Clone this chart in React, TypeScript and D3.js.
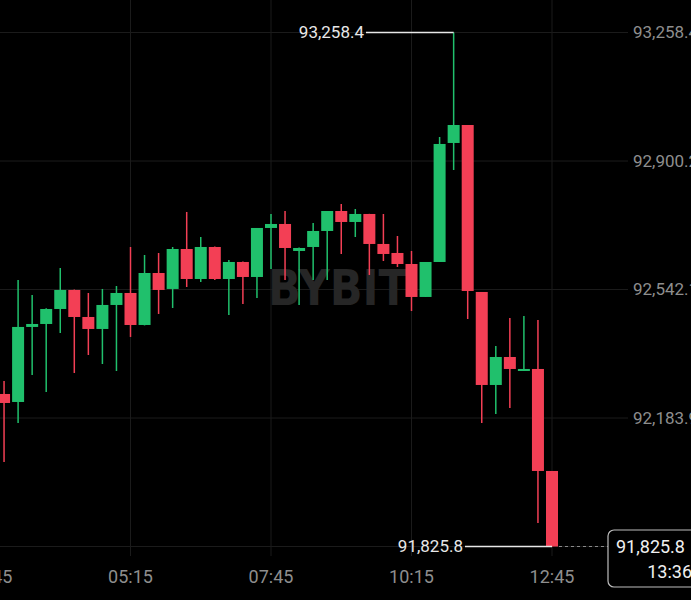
import React from "react";
import * as d3 from "d3";

// 15-minute candles, starting 03:00
const startMinute = 180;
const opens = [92250.9, 92228.6, 92437.7, 92446.0, 92487.8, 92540.8, 92465.5, 92432.1, 92499.0, 92532.4,
  92443.2, 92588.1, 92543.6, 92655.0, 92571.4, 92660.6, 92571.4, 92618.8, 92577.0, 92713.6,
  92724.7, 92649.5, 92660.6, 92705.2, 92760.9, 92730.3, 92752.6, 92669.0, 92643.9, 92613.2,
  92521.3, 92618.8, 92950.5, 93000.6, 92535.2, 92276.0, 92354.0, 92315.0, 92320.6, 92036.3];
const highs = [92287.2, 92568.6, 92526.8, 92490.0, 92602.1, 92542.0, 92532.4, 92543.6, 92551.9, 92660.6,
  92638.3, 92643.9, 92660.6, 92758.2, 92688.5, 92662.0, 92624.4, 92620.0, 92713.6, 92752.6,
  92760.9, 92659.0, 92727.5, 92760.9, 92780.5, 92766.5, 92753.0, 92752.6, 92691.3, 92649.5,
  92618.8, 92967.2, 93258.4, 93000.6, 92535.2, 92384.7, 92462.7, 92468.3, 92457.2, 92036.3];
const lows = [92061.4, 92170.1, 92303.9, 92256.5, 92420.9, 92309.4, 92359.6, 92334.5, 92315.0, 92409.8,
  92442.0, 92473.9, 92490.6, 92549.1, 92563.1, 92568.6, 92471.1, 92501.8, 92518.5, 92599.3,
  92568.6, 92499.0, 92568.6, 92568.6, 92641.1, 92688.5, 92582.6, 92621.6, 92604.9, 92482.2,
  92521.3, 92618.8, 92875.2, 92459.9, 92170.1, 92195.2, 92211.9, 92315.0, 91891.4, 91825.8];
const closes = [92225.8, 92437.7, 92446.0, 92487.8, 92540.8, 92465.5, 92432.1, 92499.0, 92532.4, 92443.2,
  92588.1, 92540.8, 92655.0, 92571.4, 92660.6, 92571.4, 92618.8, 92577.0, 92713.6, 92724.7,
  92657.8, 92657.8, 92705.2, 92760.9, 92730.3, 92752.6, 92669.0, 92641.1, 92613.2, 92521.3,
  92618.8, 92947.7, 93000.6, 92538.0, 92276.0, 92354.0, 92320.6, 92320.6, 92036.3, 91825.8];

const priceTicks = [93258.4, 92900.2, 92542.1, 92183.9, 91825.8];
const priceTickLabels = ["93,258.4", "92,900.2", "92,542.1", "92,183.9", "91,825.8"];
const timeTicks = [165, 315, 465, 615, 765];
const timeTickLabels = ["02:45", "05:15", "07:45", "10:15", "12:45"];

const highLabel = "93,258.4";
const lowLabel = "91,825.8";
const lastPriceLabel = "91,825.8";
const countdownLabel = "13:36";

const W = 691;
const H = 600;
const GREEN = "#20c06c";
const RED = "#f33f55";
const FONT = "Roboto, 'Noto Sans', sans-serif";

export default function App() {
  const x = d3.scaleLinear().domain([165, 765]).range([-10, 552]);
  const y = d3.scaleLinear().domain([91825.8, 93258.4]).range([546.5, 32.5]);
  const bw = 12;

  const candles = opens.map((o, i) => ({
    t: startMinute + 15 * i,
    o,
    h: highs[i],
    l: lows[i],
    c: closes[i],
  }));

  const hiIdx = d3.maxIndex(highs);
  const loIdx = d3.minIndex(lows);
  const last = candles[candles.length - 1];

  return (
    <div style={{ position: "absolute", left: 0, top: 0, width: W, height: H, background: "#000" }}>
      <svg width={W} height={H} style={{ display: "block", background: "#000" }}>
        {/* grid */}
        {priceTicks.map((p, i) => (
          <line key={"h" + i} x1={0} x2={628} y1={y(p)} y2={y(p)} stroke="#1b1b1b" strokeWidth={1} />
        ))}
        {timeTicks.map((t, i) => (
          <line key={"v" + i} x1={x(t)} x2={x(t)} y1={0} y2={556} stroke="#1b1b1b" strokeWidth={1} />
        ))}
        {/* watermark */}
        <text x={268} y={305} fontFamily="'DejaVu Sans', sans-serif" fontWeight={900} fontSize={50}
          fill="#262626" textLength={140} lengthAdjust="spacingAndGlyphs">BYBIT</text>

        {/* candles */}
        {candles.map((d, i) => {
          const up = d.c >= d.o;
          const col = up ? GREEN : RED;
          const cx = x(d.t);
          const top = y(Math.max(d.o, d.c));
          const bot = y(Math.min(d.o, d.c));
          return (
            <g key={i}>
              <line x1={cx} x2={cx} y1={y(d.h)} y2={y(d.l)} stroke={col} strokeWidth={1.5} />
              <rect x={cx - bw / 2} y={top} width={bw} height={Math.max(2, bot - top)} fill={col} />
            </g>
          );
        })}

        {/* high marker */}
        <line x1={366} x2={x(candles[hiIdx].t)} y1={y(highs[hiIdx])} y2={y(highs[hiIdx])} stroke="#e8e8e8" strokeWidth={1.5} />
        <text x={364} y={y(highs[hiIdx])} dy="0.35em" textAnchor="end" fill="#e8e8e8" fontFamily={FONT} fontSize={17}>{highLabel}</text>
        {/* low marker */}
        <line x1={465} x2={x(candles[loIdx].t)} y1={y(lows[loIdx])} y2={y(lows[loIdx])} stroke="#e8e8e8" strokeWidth={1.5} />
        <text x={463} y={y(lows[loIdx])} dy="0.35em" textAnchor="end" fill="#e8e8e8" fontFamily={FONT} fontSize={17}>{lowLabel}</text>

        {/* price axis labels (the last one sits under the price box) */}
        {priceTicks.slice(0, 4).map((p, i) => (
          <text key={"pl" + i} x={633} y={y(p)} dy="0.35em" fill="#8e8e8e" fontFamily={FONT} fontSize={17}>{priceTickLabels[i]}</text>
        ))}
        {/* time axis labels */}
        {timeTicks.map((t, i) => (
          <text key={"tl" + i} x={x(t)} y={583} textAnchor="middle" fill="#8e8e8e" fontFamily={FONT} fontSize={18}>{timeTickLabels[i]}</text>
        ))}

        {/* last price line + box */}
        <line x1={x(last.t) + bw / 2 + 1} x2={608} y1={y(last.c)} y2={y(last.c)} stroke="#8a8a8a" strokeWidth={1} strokeDasharray="3,3" />
        <rect x={608} y={530} width={100} height={57} rx={6} fill="#000" stroke="#bdbdbd" strokeWidth={1.2} />
        <text x={616} y={553} fill="#f0f0f0" fontFamily={FONT} fontSize={18}>{lastPriceLabel}</text>
        <text x={692} y={578} textAnchor="end" fill="#f0f0f0" fontFamily={FONT} fontSize={18}>{countdownLabel}</text>
      </svg>
    </div>
  );
}
